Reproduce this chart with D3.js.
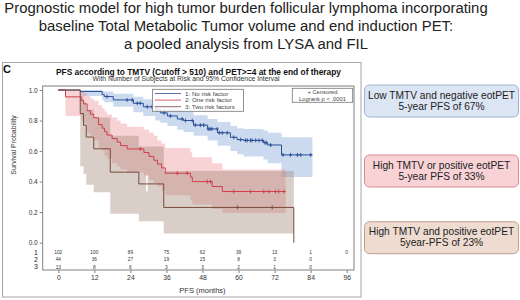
<!DOCTYPE html>
<html><head><meta charset="utf-8">
<script src="https://cdn.jsdelivr.net/npm/d3@7"></script>
<style>
html,body{margin:0;padding:0;background:#fff;}
svg{display:block;font-family:"Liberation Sans",Arial,sans-serif;}
</style></head>
<body><svg id="c" width="520" height="300"></svg>
<script>
// ---------- data ----------
const mainTitle = ["Prognostic model for high tumor burden follicular lymphoma incorporating",
  "baseline Total Metabolic Tumor volume and end induction PET:",
  "a pooled analysis from LYSA and FIL"];
const chartTitle = "PFS according to TMTV (Cutoff > 510) and PET>=4 at the end of therapy";
const chartSubtitle = "With Number of Subjects at Risk and 95% Confidence Interval";
const groupLabels = ["1: No risk factor", "2: One risk factor", "3: Two risk factors"];
const monthTicks = [0, 12, 24, 36, 48, 60, 72, 84, 96];
const survTicks = [0, 0.2, 0.4, 0.6, 0.8, 1.0];
const atRisk1 = [102, 100, 89, 75, 62, 39, 13, 1, 0];
const atRisk2 = [44, 36, 27, 19, 15, 8, 3, 0];
const atRisk3 = [13, 8, 6, 3, 3, 2, 1, 0];

// group 1 (no risk factor)
const g1Times = [0, 7.3, 14.6, 15.3, 18.3, 25, 28.3, 32.3, 34, 36.3, 39.6, 41.7, 45, 49.7, 53, 57.3, 59.5, 61.7, 68.3, 69.7, 74.3];
const g1Surv  = [1, 0.99, 0.97, 0.957, 0.935, 0.913, 0.89, 0.87, 0.85, 0.83, 0.81, 0.80, 0.77, 0.745, 0.72, 0.69, 0.675, 0.67, 0.655, 0.64, 0.575];
const g1Lower = [1, 0.96, 0.935, 0.92, 0.89, 0.855, 0.83, 0.80, 0.785, 0.765, 0.74, 0.725, 0.70, 0.67, 0.635, 0.60, 0.58, 0.565, 0.545, 0.52, 0.43];
const g1Upper = [1, 1.0, 0.995, 0.99, 0.975, 0.955, 0.94, 0.92, 0.905, 0.89, 0.87, 0.86, 0.835, 0.81, 0.79, 0.765, 0.75, 0.745, 0.735, 0.72, 0.69];
const g1End = 84.6;
const g1Censor = [16.2, 22.9, 24.6, 26.3, 27.3, 29.6, 31.2, 32.9, 35.2, 37.3, 41.2, 42.3, 44.6, 45.6, 47.3, 48.4, 49.9, 50.5, 51.1, 52.9, 53.6, 54.6, 56.2, 58.4, 60.7, 62.3, 62.9, 64, 64.5, 65.7, 66.8, 67.9, 68.8, 69.2, 70.7, 74.8, 77.3, 79.6, 80.7, 84];

// group 2 (one risk factor)
const g2Times = [0, 2.4, 7.6, 8.4, 9.6, 10.7, 11.8, 13.4, 14.6, 15.4, 16.2, 17.9, 19.6, 20.7, 22.9, 28.5, 30.2, 31.8, 33, 34.4, 35.6, 44, 44.6, 51.2, 54.6];
const g2Surv  = [1, 0.955, 0.932, 0.909, 0.864, 0.841, 0.818, 0.773, 0.75, 0.727, 0.705, 0.682, 0.659, 0.636, 0.614, 0.59, 0.565, 0.54, 0.515, 0.49, 0.455, 0.43, 0.40, 0.368, 0.335];
const g2Lower = [1, 0.83, 0.80, 0.78, 0.72, 0.70, 0.67, 0.62, 0.60, 0.57, 0.55, 0.52, 0.50, 0.48, 0.46, 0.44, 0.41, 0.39, 0.37, 0.34, 0.31, 0.28, 0.25, 0.22, 0.195];
const g2Upper = [1, 1.0, 0.99, 0.98, 0.96, 0.945, 0.93, 0.90, 0.88, 0.86, 0.84, 0.82, 0.80, 0.78, 0.76, 0.74, 0.72, 0.70, 0.67, 0.65, 0.62, 0.59, 0.56, 0.52, 0.48];
const g2End = 75.7;
const g2Censor = [27.3, 39.6, 42.9, 49.6, 50.7, 58.4, 64, 68.4, 70.1, 72.3, 73.4, 75.1];

// group 3 (two risk factors)
const g3Times = [0, 7.3, 8.4, 9.3, 11.8, 17.3, 26.8, 35.1];
const g3Surv  = [1, 0.846, 0.769, 0.692, 0.615, 0.462, 0.385, 0.231];
const g3Lower = [1, 0.50, 0.45, 0.38, 0.33, 0.19, 0.14, 0.06];
const g3Upper = [1, 0.96, 0.92, 0.87, 0.82, 0.70, 0.63, 0.47];
const g3End = 78.4;
const g3Censor = [59.6, 71.2];

const boxLines = [["Low TMTV and negative eotPET", "5-year PFS of 67%"],
  ["High TMTV or positive eotPET", "5-year PFS of 33%"],
  ["High TMTV and positive eotPET", "5year-PFS of 23%"]];

// ---------- drawing ----------
const svg = d3.select("#c");
const x = d3.scaleLinear().domain([0, 96]).range([58.3, 346.7]);
const y = d3.scaleLinear().domain([0, 1]).range([242.7, 90]);

const lineCol = ["#2b4f96", "#cf3d4c", "#7a4a3b"];
const bandCol = ["#7fa3d8", "#e8808a", "#a88a7c"];
const bandOp = [0.4, 0.35, 0.42];

// main title
svg.selectAll(".mt").data(mainTitle).join("text")
  .attr("x", 246).attr("y", (d, i) => 12.5 + i * 18)
  .attr("text-anchor", "middle").attr("font-size", 14.9).attr("fill", "#222")
  .text(d => d);

// outer panel
svg.append("rect").attr("x", 2.5).attr("y", 62.5).attr("width", 358.5).attr("height", 234.5)
  .attr("fill", "none").attr("stroke", "#a6a6a6").attr("stroke-width", 1);
svg.append("text").attr("x", 3).attr("y", 72.5).attr("font-size", 11).attr("font-weight", "bold")
  .attr("fill", "#111").text("C");

svg.append("text").attr("x", 198.5).attr("y", 74.5).attr("text-anchor", "middle")
  .attr("font-size", 8.4).attr("font-weight", "bold").attr("fill", "#111").text(chartTitle);
svg.append("text").attr("x", 186).attr("y", 81).attr("text-anchor", "middle")
  .attr("font-size", 6.8).attr("fill", "#333").text(chartSubtitle);

// bands
const groups = [
  {t: g1Times, s: g1Surv, lo: g1Lower, hi: g1Upper, end: g1End, c: g1Censor},
  {t: g2Times, s: g2Surv, lo: g2Lower, hi: g2Upper, end: g2End, c: g2Censor},
  {t: g3Times, s: g3Surv, lo: g3Lower, hi: g3Upper, end: g3End, c: g3Censor}
];
const area = d3.area().x(d => x(d.t)).y0(d => y(d.lo)).y1(d => y(d.hi)).curve(d3.curveStepAfter);
const line = d3.line().x(d => x(d.t)).y(d => y(d.s)).curve(d3.curveStepAfter);

groups.forEach((g, gi) => {
  const pts = g.t.map((t, i) => ({t, lo: g.lo[i], hi: g.hi[i]})).filter((d, i) => i > 0);
  pts.push({t: g.end, lo: g.lo[g.lo.length - 1], hi: g.hi[g.hi.length - 1]});
  svg.append("path").attr("d", area(pts)).attr("fill", bandCol[gi]).attr("fill-opacity", bandOp[gi]);
});

// white gap artifact
svg.append("line").attr("x1", x(29.5)).attr("x2", x(29.5)).attr("y1", y(0.44)).attr("y2", y(0.335))
  .attr("stroke", "#fff").attr("stroke-width", 1.6);

groups.forEach((g, gi) => {
  const pts = g.t.map((t, i) => ({t, s: g.s[i]}));
  pts.push({t: g.end, s: g.s[g.s.length - 1]});
  if (gi === 2) pts.push({t: g.end, s: 0});
  svg.append("path").attr("d", line(pts)).attr("fill", "none")
    .attr("stroke", lineCol[gi]).attr("stroke-width", 1);
  const sAt = t => { let v = g.s[0]; g.t.forEach((tt, i) => { if (tt <= t) v = g.s[i]; }); return v; };
  const cg = svg.append("g").attr("stroke", lineCol[gi]).attr("stroke-width", 0.9);
  g.c.forEach(t => {
    const cx = x(t), cy = y(sAt(t));
    cg.append("line").attr("x1", cx).attr("x2", cx).attr("y1", cy - 2).attr("y2", cy + 2);
    cg.append("line").attr("x1", cx - 1.5).attr("x2", cx + 1.5).attr("y1", cy).attr("y2", cy);
  });
});

// frame
svg.append("rect").attr("x", 42.7).attr("y", 86).attr("width", 311.3).attr("height", 184)
  .attr("fill", "none").attr("stroke", "#808080").attr("stroke-width", 1);

// y axis
const ya = svg.append("g").attr("transform", "translate(42.7,0)")
  .call(d3.axisLeft(y).tickValues(survTicks).tickFormat(d3.format(".1f")).tickSize(3).tickPadding(2));
ya.select(".domain").remove();
ya.selectAll("line").attr("stroke", "#808080");
ya.selectAll("text").attr("font-size", 6.5).attr("fill", "#333").attr("font-family", "Liberation Sans, Arial, sans-serif");

svg.append("text").attr("transform", "translate(16,145) rotate(-90)").attr("text-anchor", "middle")
  .attr("font-size", 7).attr("fill", "#333").text("Survival Probability");

// x axis
const xa = svg.append("g").attr("transform", "translate(0,270)")
  .call(d3.axisBottom(x).tickValues(monthTicks).tickSize(3).tickPadding(2));
xa.select(".domain").remove();
xa.selectAll("line").attr("stroke", "#808080");
xa.selectAll("text").attr("font-size", 6.8).attr("fill", "#333").attr("font-family", "Liberation Sans, Arial, sans-serif");
svg.append("text").attr("x", x(48)).attr("y", 293).attr("text-anchor", "middle")
  .attr("font-size", 7.5).attr("fill", "#333").text("PFS (months)");

// at-risk table
[atRisk1, atRisk2, atRisk3].forEach((arr, ri) => {
  const ry = 254 + ri * 7.4;
  svg.append("text").attr("x", 38).attr("y", ry + 0.5).attr("text-anchor", "end")
    .attr("font-size", 7).attr("fill", "#222").text(ri + 1);
  svg.selectAll(".ar" + ri).data(arr).join("text")
    .attr("x", (d, i) => x(monthTicks[i])).attr("y", ry)
    .attr("text-anchor", "middle").attr("font-size", 4.8).attr("fill", "#333").text(d => d);
});

// legend
svg.append("rect").attr("x", 152.5).attr("y", 89.3).attr("width", 91).attr("height", 22)
  .attr("fill", "#fff").attr("fill-opacity", 0.85).attr("stroke", "#777").attr("stroke-width", 0.8);
groupLabels.forEach((lab, i) => {
  const ly = 93.5 + i * 6.6;
  svg.append("line").attr("x1", 155).attr("x2", 181).attr("y1", ly).attr("y2", ly)
    .attr("stroke", lineCol[i]).attr("stroke-width", 0.8);
  svg.append("text").attr("x", 185).attr("y", ly + 2).attr("font-size", 6.2).attr("fill", "#444").text(lab);
});
svg.append("rect").attr("x", 292.3).attr("y", 88.3).attr("width", 60.4).attr("height", 14)
  .attr("fill", "#fff").attr("stroke", "#777").attr("stroke-width", 0.8);
svg.append("text").attr("x", 322.5).attr("y", 94.3).attr("text-anchor", "middle")
  .attr("font-size", 5.8).attr("fill", "#444").text("+ Censored");
svg.append("text").attr("x", 322.5).attr("y", 100.5).attr("text-anchor", "middle")
  .attr("font-size", 5.8).attr("fill", "#444").text("Logrank p < .0001");

// right boxes
const boxY = [85, 155, 221.7];
const boxFill = ["#dce5f3", "#f8d2d5", "#eedcd1"];
const boxStroke = ["#9fb2d1", "#d98a91", "#c0a08c"];
boxLines.forEach((lines, i) => {
  svg.append("rect").attr("x", 364.5).attr("y", boxY[i]).attr("width", 154).attr("height", 32)
    .attr("rx", 5).attr("fill", boxFill[i]).attr("stroke", boxStroke[i]).attr("stroke-width", 1);
  lines.forEach((t, j) => {
    svg.append("text").attr("x", 441.5).attr("y", boxY[i] + 13.5 + j * 11)
      .attr("text-anchor", "middle").attr("font-size", 10.2).attr("fill", "#222").text(t);
  });
});
</script></body></html>
